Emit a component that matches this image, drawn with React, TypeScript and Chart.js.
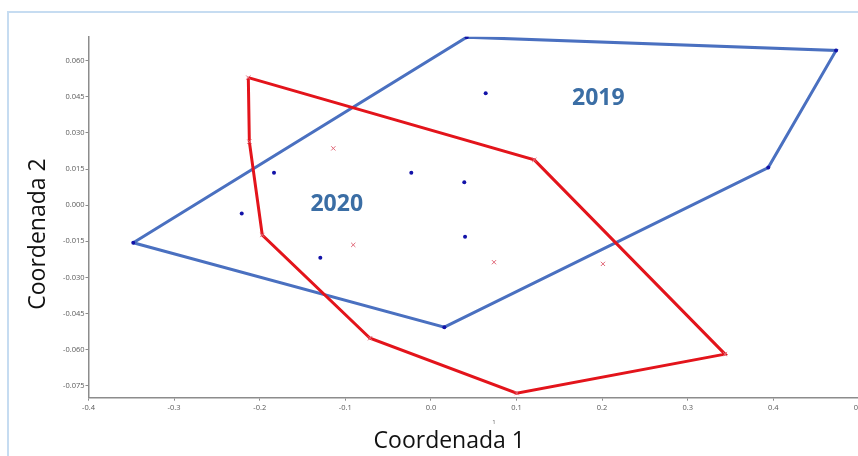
import React, { useEffect, useRef } from "react";
import { Chart, registerables } from "chart.js";

Chart.register(...registerables);

// 2019 group: PCoA coordinates
const coord1_2019 = [-0.3477, 0.0418, 0.4733, 0.3941, 0.0157, -0.1833, -0.221, -0.0229, 0.039, 0.0399, -0.1292, 0.064];
const coord2_2019 = [-0.0156, 0.0698, 0.0643, 0.0156, -0.0507, 0.0135, -0.0035, 0.0135, 0.0095, -0.0131, -0.0219, 0.0465];
const hull2019 = [0, 1, 2, 3, 4, 0];

// 2020 group
const coord1_2020 = [-0.2133, 0.1208, 0.3436, 0.1002, -0.0711, -0.197, -0.2121, -0.114, -0.0907, 0.0737, 0.201];
const coord2_2020 = [0.053, 0.0188, -0.0619, -0.0781, -0.0553, -0.0124, 0.0264, 0.0236, -0.0165, -0.0237, -0.0244];
const hull2020 = [0, 1, 2, 3, 4, 5, 6, 0];

const xTicks = [-0.4, -0.3, -0.2, -0.1, 0.0, 0.1, 0.2, 0.3, 0.4, 0.5];
const yTicks = [-0.075, -0.06, -0.045, -0.03, -0.015, 0.0, 0.015, 0.03, 0.045, 0.06];
const xRange = [-0.4, 0.5];
const yRange = [-0.08, 0.07];

const groupLabels = ["2019", "2020"];
const groupLabelX = [0.1956, -0.11];
const groupLabelY = [0.0451, 0.0009];

const xTitle = "Coordenada 1";
const yTitle = "Coordenada 2";

const BLUE_LINE = "#4a70c0";
const RED_LINE = "#e3141b";
const BLUE_PT = "#1212a8";
const RED_PT = "#e06878";
const LABEL_COLOR = "#3b6ea5";
const AXIS = "#8c8c8c";

const groupLabelPlugin = {
  id: "groupLabels",
  afterDatasetsDraw(chart: any) {
    const { ctx, scales } = chart;
    const size = 23;
    ctx.save();
    ctx.font = `bold ${size}px "Open Sans"`;
    ctx.fillStyle = LABEL_COLOR;
    ctx.textAlign = "center";
    ctx.textBaseline = "alphabetic";
    groupLabels.forEach((t, i) => {
      const px = scales.x.getPixelForValue(groupLabelX[i]);
      const py = scales.y.getPixelForValue(groupLabelY[i]);
      ctx.fillText(t, px, py + 0.357 * size);
    });
    ctx.restore();
  },
};

export default function App() {
  const ref = useRef<HTMLCanvasElement | null>(null);

  useEffect(() => {
    if (!ref.current) return;
    const pts = (xs: number[], ys: number[]) => xs.map((x, i) => ({ x, y: ys[i] }));
    const hull = (xs: number[], ys: number[], idx: number[]) => idx.map((i) => ({ x: xs[i], y: ys[i] }));

    const chart = new Chart(ref.current, {
      type: "scatter",
      data: {
        datasets: [
          {
            label: "2019 puntos",
            data: pts(coord1_2019, coord2_2019),
            pointStyle: "circle",
            pointRadius: 2,
            pointBackgroundColor: BLUE_PT,
            pointBorderColor: BLUE_PT,
            pointBorderWidth: 0,
            showLine: false,
            order: 0,
          },
          {
            label: "2020 puntos",
            data: pts(coord1_2020, coord2_2020),
            pointStyle: "crossRot",
            pointRadius: 3,
            pointBorderColor: RED_PT,
            pointBorderWidth: 1,
            showLine: false,
            order: 0,
          },
          {
            label: "2020",
            data: hull(coord1_2020, coord2_2020, hull2020),
            showLine: true,
            pointRadius: 0,
            borderColor: RED_LINE,
            borderWidth: 3,
            fill: false,
            order: 1,
          },
          {
            label: "2019",
            data: hull(coord1_2019, coord2_2019, hull2019),
            showLine: true,
            pointRadius: 0,
            borderColor: BLUE_LINE,
            borderWidth: 3,
            fill: false,
            order: 2,
          },
        ],
      } as any,
      options: {
        animation: false,
        responsive: false,
        maintainAspectRatio: false,
        layout: { padding: { left: 0, top: 36.7, right: 41.1, bottom: 38.3 } },
        plugins: {
          legend: { display: false },
          tooltip: { enabled: false },
          title: { display: false },
        },
        scales: {
          x: {
            type: "linear",
            min: xRange[0],
            max: xRange[1],
            afterBuildTicks: (s: any) => {
              s.ticks = xTicks.map((v) => ({ value: v }));
            },
            afterFit: (s: any) => {
              s.height = 20;
            },
            grid: { drawOnChartArea: false, drawTicks: true, tickLength: 3, tickColor: AXIS, tickWidth: 1 },
            border: { display: true, color: AXIS, width: 1.5 },
            ticks: {
              autoSkip: false,
              maxRotation: 0,
              padding: 3,
              color: "#5a5a5a",
              font: { family: "Open Sans", size: 7.5 },
              callback: (v: any) => Number(v).toFixed(1),
            },
          },
          y: {
            type: "linear",
            min: yRange[0],
            max: yRange[1],
            afterBuildTicks: (s: any) => {
              s.ticks = yTicks.map((v) => ({ value: v }));
            },
            afterFit: (s: any) => {
              s.width = 88.5;
            },
            grid: { drawOnChartArea: false, drawTicks: true, tickLength: 3, tickColor: AXIS, tickWidth: 1 },
            border: { display: true, color: AXIS, width: 1.5 },
            ticks: {
              autoSkip: false,
              padding: 1,
              color: "#5a5a5a",
              font: { family: "Open Sans", size: 7.5 },
              callback: (v: any) => Number(v).toFixed(3),
            },
          },
        },
      } as any,
      plugins: [groupLabelPlugin],
    });
    return () => chart.destroy();
  }, []);

  const titleFont = '"Open Sans", sans-serif';

  return (
    <div
      style={{
        position: "fixed",
        left: 0,
        top: 0,
        width: 858,
        height: 456,
        overflow: "hidden",
        background: "#ffffff",
      }}
    >
      <div
        style={{
          position: "absolute",
          left: 7,
          top: 11,
          width: 2000,
          height: 2000,
          border: "2px solid #c6dcf1",
        }}
      />
      <canvas
        ref={ref}
        width={900}
        height={456}
        style={{ position: "absolute", left: 0, top: 0, width: 900, height: 456 }}
      />
      <div
        style={{
          position: "absolute",
          left: 36.1 - 100,
          top: 233.5 - 15,
          width: 200,
          height: 30,
          lineHeight: "30px",
          textAlign: "center",
          fontFamily: titleFont,
          fontSize: 23,
          color: "#111",
          transform: "rotate(-90deg)",
          whiteSpace: "nowrap",
        }}
      >
        {yTitle}
      </div>
      <div
        style={{
          position: "absolute",
          left: 449.3 - 100,
          top: 424.4,
          width: 200,
          height: 30,
          lineHeight: "30px",
          textAlign: "center",
          fontFamily: titleFont,
          fontSize: 23,
          color: "#111",
          whiteSpace: "nowrap",
        }}
      >
        {xTitle}
      </div>
      <div
        style={{
          position: "absolute",
          left: 489,
          top: 417,
          width: 10,
          height: 10,
          lineHeight: "10px",
          textAlign: "center",
          fontFamily: titleFont,
          fontSize: 6,
          color: "#666",
        }}
      >
        1
      </div>
    </div>
  );
}
